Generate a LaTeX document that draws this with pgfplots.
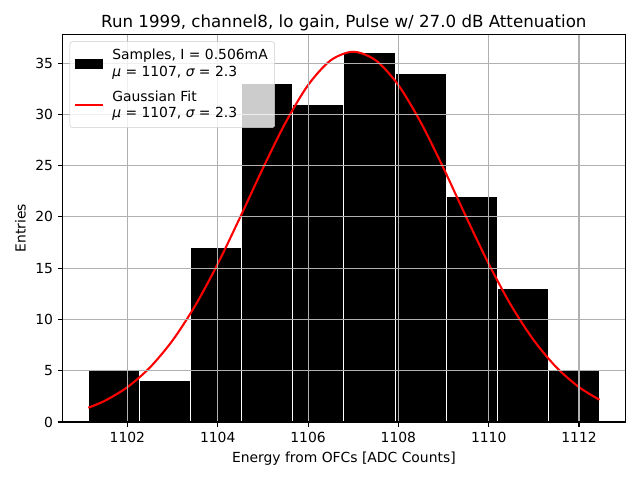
\documentclass[border=0pt]{standalone}
\usepackage{pgfplots}
\pgfplotsset{compat=1.18}
\usepackage{fontspec}
\setmainfont{DejaVu Sans}
\definecolor{gridc}{RGB}{176,176,176}
\definecolor{legc}{RGB}{204,204,204}
\pgfplotsset{
  barlegend/.style={legend image code/.code={\draw[sharp corners, fill=black, draw=black, fill opacity=1, draw opacity=1] (0.5pt,-3.3pt) rectangle (19.5pt,3.3pt); \path (24pt,0pt);}},
  linelegend/.style={legend image code/.code={\draw[sharp corners, red, line width=1.5pt, draw opacity=1] (0pt,0pt) -- (20pt,0pt); \path (24pt,0pt);}},
}
\begin{document}
\begin{tikzpicture}
\useasboundingbox (-45.14pt,-41.76pt) rectangle (415.66pt,303.84pt);
\begin{axis}[
  at={(0,0)}, anchor=south west,
  scale only axis, width=404.9pt, height=279.1pt,
  xmin=1100.567, xmax=1113.019, ymin=0, ymax=37.8,
  xtick={1102,1104,1106,1108,1110,1112},
  ytick={0,5,10,15,20,25,30,35},
  minor tick num=0,
  tick align=outside, tick pos=left,
  major tick length=3.5pt,
  tick style={black, line width=0.8pt},
  axis line style={line width=0.8pt},
  grid=major, grid style={gridc, line width=0.8pt},
  axis on top,
  /pgf/number format/assume math mode=true,
  /pgf/number format/set thousands separator={},
  ticklabel style={font=\fontsize{10}{12}\selectfont},
  xlabel={Energy from OFCs [ADC Counts]},
  ylabel={Entries},
  label style={font=\fontsize{10}{12}\selectfont},
  title={Run 1999, channel8, lo gain, Pulse w/ 27.0 dB Attenuation},
  title style={font=\fontsize{12}{14}\selectfont, yshift=-7pt},
  legend style={at={(0,1)}, anchor=north west, xshift=5pt, yshift=-5pt,
    fill=white, fill opacity=0.8, draw opacity=1, text opacity=1,
    draw=legc, rounded corners=2pt, font=\fontsize{10}{11.8}\selectfont,
    cells={align=left}, row sep=5pt, inner xsep=3pt, inner ysep=3.6pt},
  legend cell align=left,
]
\addplot[ybar, bar width=1.132, bar shift=0pt, fill=black, draw=white, line width=0.7pt, barlegend]
  coordinates {(1101.699,5) (1102.831,4) (1103.963,17) (1105.095,33) (1106.227,31)
    (1107.359,36) (1108.491,34) (1109.623,22) (1110.755,13) (1111.887,5)};
\addlegendentry{Samples, I = 0.506mA\\{\itshape μ} = 1107, {\itshape σ} = 2.3}
\addplot[red, line width=1.5pt, smooth, linelegend]
  coordinates {(1101.133,1.396) (1101.5,2.069) (1102,3.397) (1102.5,5.325) (1103,7.957)
    (1103.5,11.34) (1104,15.42) (1104.5,20.00) (1105,24.74) (1105.5,29.18) (1106,32.85)
    (1106.5,35.26) (1107,36.10) (1107.5,35.26) (1108,32.85) (1108.5,29.18) (1109,24.74)
    (1109.5,20.00) (1110,15.42) (1110.5,11.34) (1111,7.957) (1111.5,5.325) (1112,3.397)
    (1112.453,2.170)};
\addlegendentry{Gaussian Fit\\{\itshape μ} = 1107, {\itshape σ} = 2.3}
\end{axis}
\end{tikzpicture}
\end{document}
